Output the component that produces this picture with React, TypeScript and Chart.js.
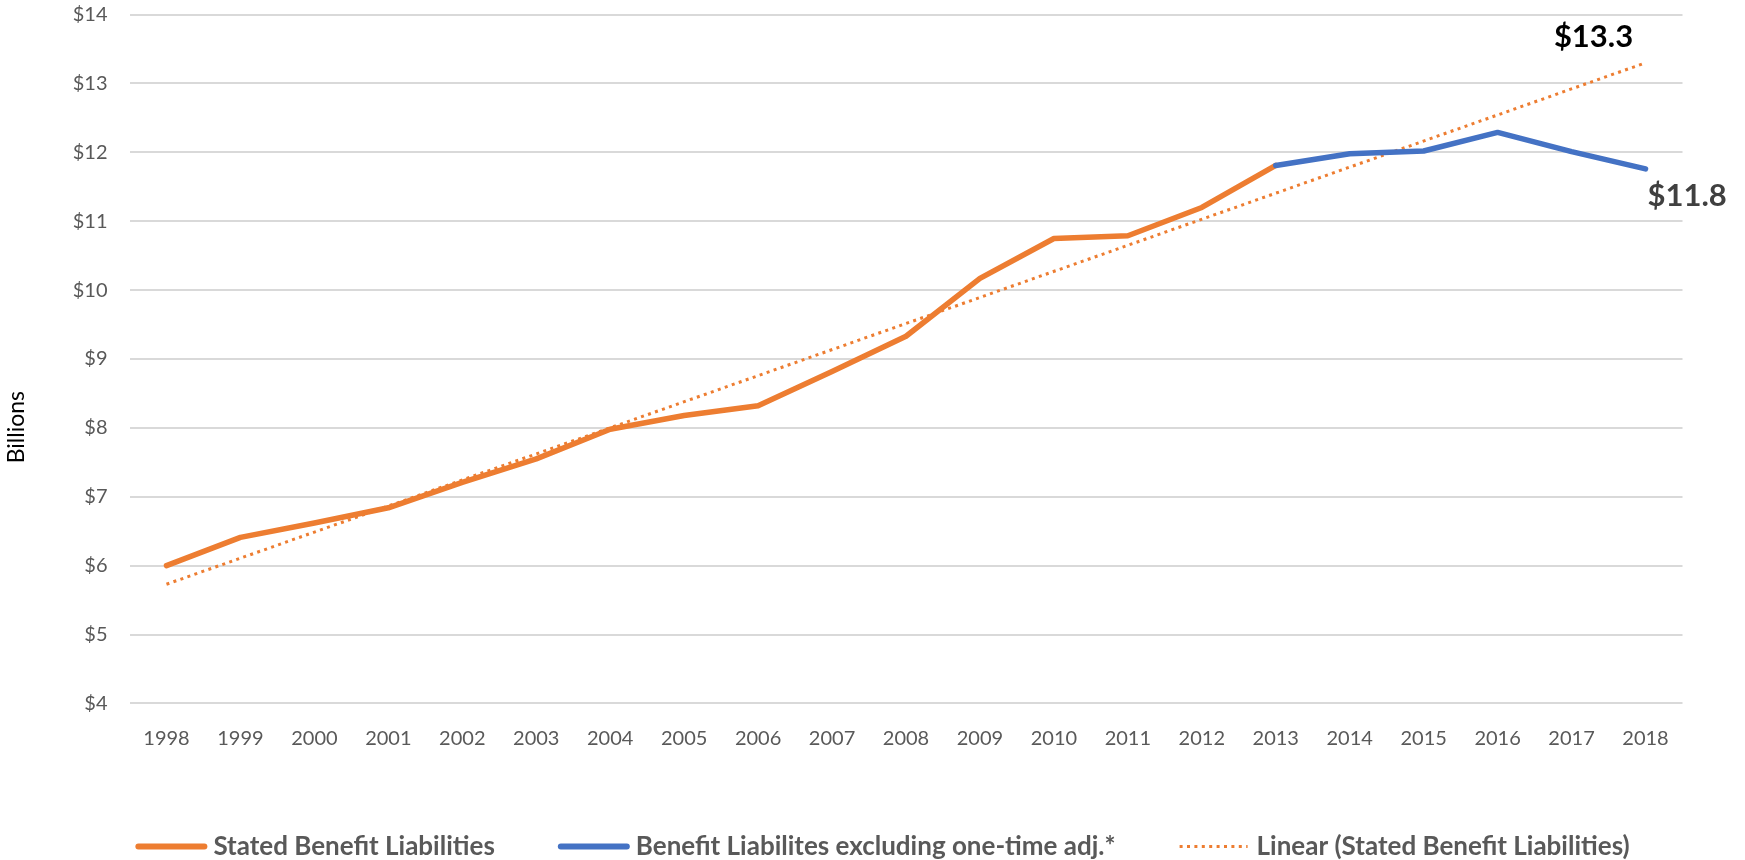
import React, { useEffect, useRef } from 'react';
import { Chart, registerables } from 'chart.js';

Chart.register(...registerables);

// Fiscal years on the category axis
const years = [
  '1998', '1999', '2000', '2001', '2002', '2003', '2004', '2005', '2006', '2007', '2008',
  '2009', '2010', '2011', '2012', '2013', '2014', '2015', '2016', '2017', '2018',
];

// Stated benefit liabilities, $ billions (1998–2013)
const statedYears = [
  '1998', '1999', '2000', '2001', '2002', '2003', '2004', '2005',
  '2006', '2007', '2008', '2009', '2010', '2011', '2012', '2013',
];
const statedLiabilities = [
  6.0, 6.41, 6.62, 6.84, 7.21, 7.55, 7.98, 8.18,
  8.32, 8.82, 9.33, 10.17, 10.75, 10.79, 11.2, 11.81,
];

// Benefit liabilities excluding one-time adjustments, $ billions (2013–2018)
const adjustedYears = ['2013', '2014', '2015', '2016', '2017', '2018'];
const adjustedLiabilities = [11.81, 11.98, 12.02, 12.29, 12.01, 11.76];

// Linear trend of the stated liabilities, end points
const trendYears = ['1998', '2018'];
const trendValues = [5.73, 13.3];

// Value axis ticks, $ billions
const yTicks = [4, 5, 6, 7, 8, 9, 10, 11, 12, 13, 14];

const seriesNames = [
  'Stated Benefit Liabilities',
  'Benefit Liabilites excluding one-time adj.*',
  'Linear (Stated Benefit Liabilities)',
];
const axisTitle = 'Billions';

const ORANGE = '#ED7D31';
const BLUE = '#4472C4';
const FONT = 'Lato, "Open Sans", sans-serif';

const money = (v: number) => '$' + v.toFixed(1);

// End-of-series value callouts
const calloutPlugin = {
  id: 'callouts',
  afterDatasetsDraw(chart: any) {
    const { ctx, scales } = chart;
    const x = scales.x;
    const y = scales.y;
    const last = years.length - 1;
    const px = x.getPixelForValue(last);
    ctx.save();
    ctx.font = `bold 31px ${FONT}`;
    ctx.textBaseline = 'middle';

    const trendEnd = trendValues[trendValues.length - 1];
    ctx.fillStyle = '#000000';
    ctx.textAlign = 'center';
    ctx.fillText(money(trendEnd), px - 52, y.getPixelForValue(trendEnd) - 26);

    const adjEnd = adjustedLiabilities[adjustedLiabilities.length - 1];
    ctx.fillStyle = '#404040';
    ctx.textAlign = 'left';
    ctx.fillText(money(adjEnd), px + 2, y.getPixelForValue(adjEnd) + 27);
    ctx.restore();
  },
};

// Rotated value-axis title, placed beside the lower half of the plot
const axisTitlePlugin = {
  id: 'axisTitle',
  afterDraw(chart: any) {
    const { ctx, chartArea } = chart;
    ctx.save();
    ctx.translate(16.5, chartArea.top + (chartArea.bottom - chartArea.top) * 0.599);
    ctx.rotate(-Math.PI / 2);
    ctx.font = `23px ${FONT}`;
    ctx.fillStyle = '#000000';
    ctx.textAlign = 'center';
    ctx.textBaseline = 'middle';
    ctx.fillText(axisTitle, 0, 0);
    ctx.restore();
  },
};

// Legend row along the bottom edge
const legendPlugin = {
  id: 'bottomLegend',
  afterDraw(chart: any) {
    const { ctx } = chart;
    const items = [
      { text: seriesNames[0], color: ORANGE, dotted: false },
      { text: seriesNames[1], color: BLUE, dotted: false },
      { text: seriesNames[2], color: ORANGE, dotted: true },
    ];
    const lineLen = 66;
    const textGap = 75;
    const itemGap = 66;
    const cy = 846.5;
    ctx.save();
    ctx.font = `bold 26px ${FONT}`;
    const widths = items.map((it) => ctx.measureText(it.text).width);
    const total = widths.reduce((a, w) => a + textGap + w, 0) + itemGap * (items.length - 1);
    let x = 884 - total / 2;
    items.forEach((it, i) => {
      ctx.beginPath();
      ctx.strokeStyle = it.color;
      if (it.dotted) {
        ctx.lineWidth = 3;
        ctx.lineCap = 'butt';
        ctx.setLineDash([3, 4.4]);
        ctx.moveTo(x - 2, cy);
        ctx.lineTo(x + lineLen, cy);
      } else {
        ctx.lineWidth = 6;
        ctx.lineCap = 'round';
        ctx.setLineDash([]);
        ctx.moveTo(x, cy);
        ctx.lineTo(x + lineLen, cy);
      }
      ctx.stroke();
      ctx.setLineDash([]);
      ctx.fillStyle = '#595959';
      ctx.textAlign = 'left';
      ctx.textBaseline = 'middle';
      ctx.fillText(it.text, x + textGap, cy);
      x += textGap + widths[i] + itemGap;
    });
    ctx.restore();
  },
};

export default function App() {
  const canvasRef = useRef<HTMLCanvasElement | null>(null);

  useEffect(() => {
    if (!canvasRef.current) return;
    const chart = new Chart(canvasRef.current, {
      type: 'line',
      data: {
        labels: years,
        datasets: [
          {
            label: seriesNames[1],
            data: adjustedYears.map((yr, i) => ({ x: yr, y: adjustedLiabilities[i] })) as any,
            borderColor: BLUE,
            backgroundColor: BLUE,
            borderWidth: 5.5,
            pointRadius: 0,
            borderJoinStyle: 'round',
            borderCapStyle: 'round',
            order: 1,
          },
          {
            label: seriesNames[0],
            data: statedYears.map((yr, i) => ({ x: yr, y: statedLiabilities[i] })) as any,
            borderColor: ORANGE,
            backgroundColor: ORANGE,
            borderWidth: 5.5,
            pointRadius: 0,
            borderJoinStyle: 'round',
            borderCapStyle: 'round',
            order: 2,
          },
          {
            label: seriesNames[2],
            data: trendYears.map((yr, i) => ({ x: yr, y: trendValues[i] })) as any,
            borderColor: ORANGE,
            backgroundColor: ORANGE,
            borderWidth: 3,
            borderDash: [3, 4.4],
            borderCapStyle: 'butt',
            pointRadius: 0,
            order: 3,
          },
        ],
      },
      options: {
        animation: false,
        responsive: true,
        maintainAspectRatio: false,
        layout: { padding: { left: 0, right: 62.5, top: 14.6, bottom: 96.6 } },
        plugins: {
          legend: { display: false },
          tooltip: { enabled: false },
        },
        scales: {
          x: {
            type: 'category',
            offset: true,
            grid: { display: false, offset: true },
            border: { display: false },
            ticks: {
              color: '#595959',
              font: { family: FONT, size: 20 },
              padding: 15,
              maxRotation: 0,
              autoSkip: false,
            },
            afterFit(scale: any) {
              scale.height = 60;
            },
          },
          y: {
            min: 4,
            max: 14,
            grid: {
              color: '#D9D9D9',
              lineWidth: 2,
              drawTicks: true,
              tickLength: 20,
              tickColor: 'rgba(0,0,0,0)',
            },
            border: { display: false },
            ticks: {
              color: '#595959',
              font: { family: FONT, size: 20 },
              padding: 2,
              callback: (v: any) => '$' + v,
            },
            afterBuildTicks(scale: any) {
              scale.ticks = yTicks.map((v) => ({ value: v }));
            },
            afterFit(scale: any) {
              scale.width = 129.5;
            },
          },
        },
      },
      plugins: [calloutPlugin, axisTitlePlugin, legendPlugin],
    });
    return () => chart.destroy();
  }, []);

  return (
    <div
      style={{
        position: 'fixed',
        left: 0,
        top: 0,
        width: 1745,
        height: 860,
        background: '#ffffff',
      }}
    >
      <canvas ref={canvasRef} />
    </div>
  );
}
